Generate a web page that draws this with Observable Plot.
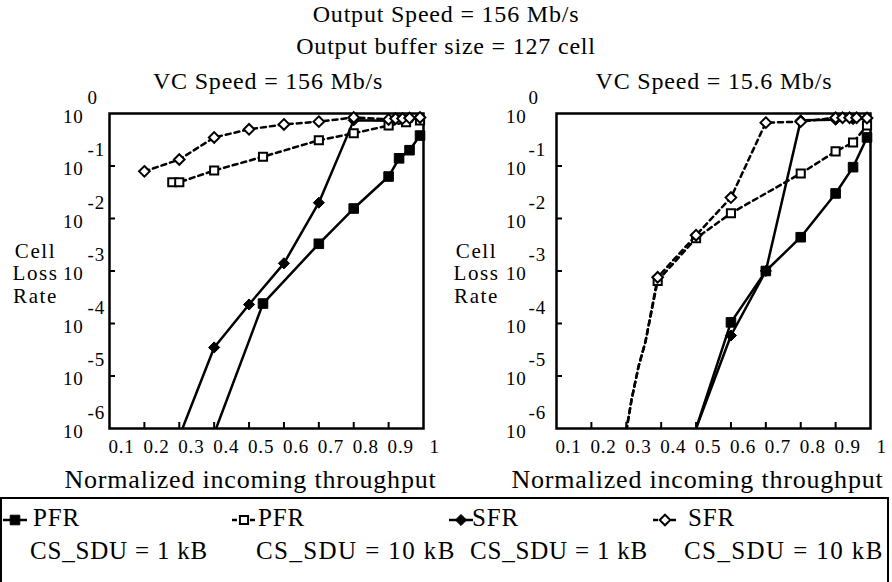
<!DOCTYPE html>
<html><head><meta charset="utf-8">
<script src="https://cdn.jsdelivr.net/npm/d3@7"></script>
<script src="https://cdn.jsdelivr.net/npm/@observablehq/plot@0.6"></script>
<style>
body{margin:0;background:#fff;}
#root{position:relative;width:892px;height:582px;overflow:hidden;background:#fff;font-family:"Liberation Serif","Times New Roman",serif;color:#000;}
.t{position:absolute;white-space:nowrap;letter-spacing:0.8px;}
</style></head><body><div id="root"></div>
<script>
// ---- axis ticks / labels ----
const xTickValues = [0.2, 0.3, 0.4, 0.5, 0.6, 0.7, 0.8, 0.9];
const xTickLabels = [0.1, 0.2, 0.3, 0.4, 0.5, 0.6, 0.7, 0.8, 0.9];
const xEndLabel = [1];
const yExponents = [0, -1, -2, -3, -4, -5, -6];
const yTickExponents = [-1, -2, -3, -4, -5];
const yTitleLines = ["Cell", "Loss", "Rate"];

// ---- VC Speed = 156 Mb/s (left) : [throughput, cell loss rate] ----
const l_PFR_1kB = [[0.54, 2.4e-4], [0.7, 3.3e-3], [0.8, 0.0155], [0.9, 0.063], [0.93, 0.14], [0.96, 0.2], [0.99, 0.38]];
const l_PFR_1kB_tail = [[0.4, 8e-7]];
const l_PFR_10kB = [[0.28, 0.049], [0.3, 0.049], [0.4, 0.082], [0.54, 0.15], [0.7, 0.31], [0.8, 0.42], [0.9, 0.59], [0.95, 0.68], [0.99, 0.74]];
const l_SFR_1kB = [[0.4, 3.5e-5], [0.5, 2.3e-4], [0.6, 1.4e-3], [0.7, 0.02], [0.8, 0.74], [0.9, 0.73], [0.96, 0.8], [0.99, 0.84]];
const l_SFR_1kB_tail = [[0.3, 7e-7]];
const l_SFR_10kB = [[0.2, 0.079], [0.3, 0.133], [0.4, 0.35], [0.5, 0.5], [0.6, 0.62], [0.7, 0.7], [0.8, 0.84], [0.9, 0.77], [0.92, 0.8], [0.94, 0.8], [0.96, 0.82], [0.99, 0.84]];

// ---- VC Speed = 15.6 Mb/s (right) ----
const r_PFR_1kB = [[0.6, 1.05e-4], [0.7, 1.0e-3], [0.8, 4.4e-3], [0.9, 0.03], [0.95, 0.095], [0.99, 0.35]];
const r_PFR_1kB_tail = [[0.5, 1e-6]];
const r_PFR_10kB = [[0.39, 6.5e-4], [0.5, 4.2e-3], [0.6, 0.0126], [0.8, 0.072], [0.9, 0.19], [0.95, 0.28], [0.99, 0.59]];
const r_PFR_10kB_tail = [[0.3, 9e-7], [0.315, 3.5e-6], [0.335, 1.5e-5], [0.355, 4.5e-5]];
const r_SFR_1kB = [[0.6, 5.9e-5], [0.7, 1.0e-3], [0.8, 0.74], [0.9, 0.76], [0.95, 0.78], [0.99, 0.8]];
const r_SFR_1kB_tail = [[0.5, 1e-6]];
const r_SFR_10kB = [[0.39, 7.6e-4], [0.5, 4.8e-3], [0.6, 0.025], [0.7, 0.67], [0.8, 0.7], [0.9, 0.83], [0.92, 0.83], [0.94, 0.83], [0.96, 0.83], [0.99, 0.82]];
const r_SFR_10kB_tail = [[0.3, 9e-7], [0.315, 3.5e-6], [0.335, 1.5e-5], [0.355, 4.5e-5]];

// ---- series styles ----
const styles = {
  PFR_1kB:  {dash: null,  symbol: "square",   fill: "black", r: 5.4, sw: 1},
  PFR_10kB: {dash: "5,4", symbol: "square",   fill: "white", r: 4.6, sw: 2},
  SFR_1kB:  {dash: null,  symbol: "diamond2", fill: "black", r: 5.0, sw: 1},
  SFR_10kB: {dash: "5,4", symbol: "diamond2", fill: "white", r: 4.8, sw: 2}
};
const legendItems = [
  {key: "PFR_1kB", l1: "PFR", l2: "CS_SDU = 1 kB"},
  {key: "PFR_10kB", l1: "PFR", l2: "CS_SDU = 10 kB"},
  {key: "SFR_1kB", l1: "SFR", l2: "CS_SDU = 1 kB"},
  {key: "SFR_10kB", l1: "SFR", l2: "CS_SDU = 10 kB"}
];

const FONT = "Liberation Serif";
const root = document.getElementById("root");

function addText(txt, cx, cy, size, anchor) {
  const d = document.createElement("div");
  d.className = "t";
  d.textContent = txt;
  d.style.fontSize = size + "px";
  d.style.lineHeight = size + "px";
  d.style.top = (cy - size / 2) + "px";
  d.style.left = cx + "px";
  if (anchor !== "start") d.style.transform = "translateX(-50%)";
  root.appendChild(d);
  return d;
}

function seriesMarks(key, pts, tail) {
  const s = styles[key];
  const linePts = (tail || []).concat(pts).sort((a, b) => a[0] - b[0]);
  return [
    Plot.line(linePts, {x: d => d[0], y: d => d[1], stroke: "black", strokeWidth: 2.5,
      strokeDasharray: s.dash, clip: true}),
    Plot.dot(pts, {x: d => d[0], y: d => d[1], symbol: s.symbol, r: s.r, fill: s.fill,
      stroke: "black", strokeWidth: s.sw})
  ];
}

function panel(series, o) {
  const marks = [
    Plot.axisX({ticks: xTickValues, tickSize: 6, dy: -6, tickFormat: () => "", label: null, strokeWidth: 2}),
    Plot.axisY({ticks: yTickExponents.map(e => Math.pow(10, e)), tickSize: 6, dx: 6, tickFormat: () => "", label: null, strokeWidth: 2}),
    Plot.frame({stroke: "black", strokeWidth: 2.5}),
    Plot.text(xTickLabels, {x: d => d, text: d => String(d), frameAnchor: "bottom", dy: 24, dx: -1,
      textAnchor: "start", fontSize: 19}),
    Plot.text(xEndLabel, {x: d => d, text: d => String(d), frameAnchor: "bottom", dy: 24, dx: 6,
      textAnchor: "start", fontSize: 19}),
    Plot.text(yExponents, {y: d => Math.pow(10, d), text: () => "10", frameAnchor: "left",
      dx: o.tenDx, dy: 3, textAnchor: "end", fontSize: 19}),
    Plot.text(yExponents, {y: d => Math.pow(10, d), text: d => String(d), frameAnchor: "left",
      dx: o.expDx, dy: -16, textAnchor: "start", fontSize: 19}),
    Plot.text(["Normalized incoming throughput"], {text: d => d, frameAnchor: "bottom", dy: 59, dx: -16, fontSize: 26}),
    Plot.text([yTitleLines[0]], {text: d => d, frameAnchor: "left", dx: o.titleDx, dy: -20, fontSize: 21, textAnchor: "middle", letterSpacing: "1.5px"}),
    Plot.text([yTitleLines[1]], {text: d => d, frameAnchor: "left", dx: o.titleDx, dy: 2.5, fontSize: 21, textAnchor: "middle"}),
    Plot.text([yTitleLines[2]], {text: d => d, frameAnchor: "left", dx: o.titleDx, dy: 25, fontSize: 21, textAnchor: "middle"})
  ];
  for (const [key, pts, tail] of series) marks.push(...seriesMarks(key, pts, tail));
  const svg = Plot.plot({
    width: 446, height: 440,
    marginLeft: o.ml, marginRight: o.mr, marginTop: 53, marginBottom: 72,
    style: {fontFamily: FONT, background: "transparent", color: "black", overflow: "visible", letterSpacing: "0.8px"},
    x: {domain: [0.1, 1]},
    y: {type: "log", domain: [1e-6, 1]},
    marks
  });
  // widen the stacked y-title words a little
  d3.select(svg).selectAll("text").filter(function () { return yTitleLines.includes(this.textContent); })
    .style("letter-spacing", "1.6px");
  return svg;
}

const left = panel([
  ["PFR_1kB", l_PFR_1kB, l_PFR_1kB_tail],
  ["SFR_1kB", l_SFR_1kB, l_SFR_1kB_tail],
  ["PFR_10kB", l_PFR_10kB, null],
  ["SFR_10kB", l_SFR_10kB, null]
], {ml: 109, mr: 23, tenDx: -26, expDx: -22, titleDx: -74});
left.style.position = "absolute"; left.style.left = "0px"; left.style.top = "60px";
root.appendChild(left);

const right = panel([
  ["PFR_1kB", r_PFR_1kB, r_PFR_1kB_tail],
  ["SFR_1kB", r_SFR_1kB, r_SFR_1kB_tail],
  ["PFR_10kB", r_PFR_10kB, r_PFR_10kB_tail],
  ["SFR_10kB", r_SFR_10kB, r_SFR_10kB_tail]
], {ml: 110, mr: 22, tenDx: -30, expDx: -28, titleDx: -80});
right.style.position = "absolute"; right.style.left = "446px"; right.style.top = "60px";
root.appendChild(right);

// titles
addText("Output Speed = 156 Mb/s", 446, 14, 24);
addText("Output buffer size = 127 cell", 446, 46, 24);
addText("VC Speed = 156 Mb/s", 268, 81, 24);
addText("VC Speed = 15.6 Mb/s", 714, 81, 24);

// legend box
const box = document.createElement("div");
box.style.cssText = "position:absolute;left:0px;top:497px;width:885px;height:120px;border:2px solid #000;";
root.appendChild(box);
const legendPos = [
  {icon: 15, t1: 33, t2: 30},
  {icon: 244, t1: 258, t2: 256},
  {icon: 461, t1: 472, t2: 470},
  {icon: 665, t1: 688, t2: 684}
];
legendItems.forEach((it, i) => {
  const p = legendPos[i];
  const s = styles[it.key];
  const svg = d3.create("svg").attr("width", 30).attr("height", 18)
    .style("position", "absolute").style("left", (p.icon - 15) + "px").style("top", (520 - 9) + "px");
  svg.append("line").attr("x1", 3).attr("x2", 27).attr("y1", 9).attr("y2", 9)
    .attr("stroke", "black").attr("stroke-width", 2.5).attr("stroke-dasharray", s.dash);
  svg.append("path").attr("transform", "translate(15,9)")
    .attr("d", d3.symbol(s.symbol === "square" ? d3.symbolSquare : d3.symbolDiamond2, Math.PI * s.r * s.r)())
    .attr("fill", s.fill).attr("stroke", "black").attr("stroke-width", s.sw);
  root.appendChild(svg.node());
  addText(it.l1, p.t1, 517, 25, "start");
  const t2 = addText(it.l2, p.t2, 550, 25, "start");
  if (it.l2.includes("10")) t2.style.letterSpacing = "1.4px";
});
</script></body></html>
